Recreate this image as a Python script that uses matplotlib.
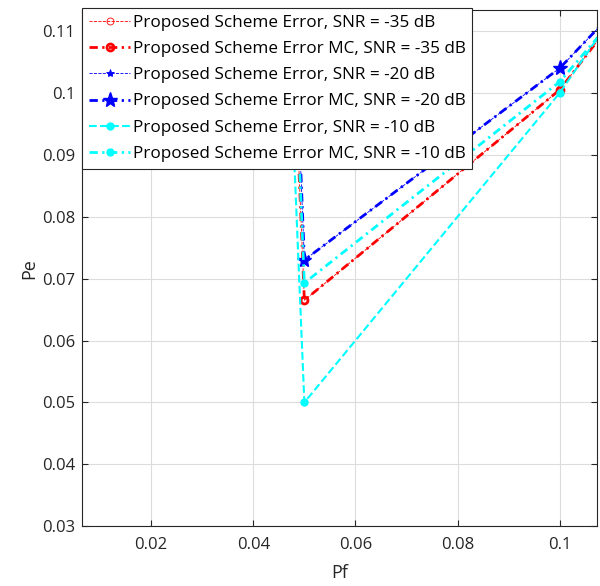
import numpy as np
import matplotlib
matplotlib.use("Agg")
import matplotlib.pyplot as plt

plt.rcParams['font.family'] = ['Open Sans', 'DejaVu Sans']

# Pf values used for every curve
pf = [0.01, 0.05, 0.1, 0.15]

# Pe values (first and last points lie outside the view)
pe_35 = [0.86, 0.0665, 0.1005, 0.154]
pe_35_mc = [0.86, 0.0665, 0.1005, 0.154]
pe_20 = [0.90, 0.073, 0.104, 0.147]
pe_20_mc = [0.90, 0.073, 0.104, 0.147]
pe_10 = [0.84, 0.050, 0.100, 0.160]
pe_10_mc = [0.86, 0.0693, 0.1018, 0.150]

labels = [
    'Proposed Scheme Error, SNR = -35 dB',
    'Proposed Scheme Error MC, SNR = -35 dB',
    'Proposed Scheme Error, SNR = -20 dB',
    'Proposed Scheme Error MC, SNR = -20 dB',
    'Proposed Scheme Error, SNR = -10 dB',
    'Proposed Scheme Error MC, SNR = -10 dB',
]

dashdot = (3.0, 1.6, 0.8, 1.6)

fig = plt.figure(figsize=(6.0, 5.86), dpi=100)
ax = fig.add_axes([0.137, 0.102, 0.858, 0.881])

ax.plot(pf, pe_35, '--', color='#ff0000', lw=0.6, marker='o', ms=5,
        mfc='none', mew=0.6, label=labels[0])
ax.plot(pf, pe_35_mc, color='#ff0000', lw=2.0, dashes=dashdot, marker='o',
        ms=5, mfc='none', mew=2.0, label=labels[1])
ax.plot(pf, pe_20, '--', color='#0000ff', lw=0.6, marker='*', ms=6,
        mew=0.6, label=labels[2])
ax.plot(pf, pe_20_mc, color='#0000ff', lw=2.0, dashes=dashdot, marker='*',
        ms=11, label=labels[3])
ax.plot(pf, pe_10, '--', color='#00ffff', lw=1.5, marker='.', ms=10,
        label=labels[4])
ax.plot(pf, pe_10_mc, color='#00ffff', lw=2.0, dashes=dashdot, marker='.',
        ms=10, label=labels[5])

ax.set_xlim(0.0065, 0.1073)
ax.set_ylim(0.03, 0.1134)
ax.set_xticks([0.02, 0.04, 0.06, 0.08, 0.1])
ax.set_xticklabels(['0.02', '0.04', '0.06', '0.08', '0.1'])
ax.set_yticks([0.03, 0.04, 0.05, 0.06, 0.07, 0.08, 0.09, 0.1, 0.11])
ax.set_yticklabels(['0.03', '0.04', '0.05', '0.06', '0.07', '0.08',
                    '0.09', '0.1', '0.11'])

ax.grid(True, color='#dcdcdc', lw=0.8)
ax.set_axisbelow(True)
ax.tick_params(direction='in', top=True, right=True, length=4,
               labelsize=12, colors='#262626', width=0.8)
ax.tick_params(axis='x', pad=8)
ax.tick_params(axis='y', pad=5)
for s in ax.spines.values():
    s.set_color('#262626')
    s.set_linewidth(0.8)

ax.set_xlabel('Pf', fontsize=13, color='#262626', labelpad=8)
ax.set_ylabel('Pe', fontsize=13, color='#262626', labelpad=3)

leg = ax.legend(loc='upper left', bbox_to_anchor=(0.0, 1.004),
                borderaxespad=0.0, fontsize=12.3,
                fancybox=False, framealpha=1.0, edgecolor='#262626',
                handlelength=2.4, handletextpad=0.15, labelspacing=0.6,
                borderpad=0.4)
leg.get_frame().set_linewidth(0.8)

fig.savefig('out.png', dpi=100)
plt.close(fig)
